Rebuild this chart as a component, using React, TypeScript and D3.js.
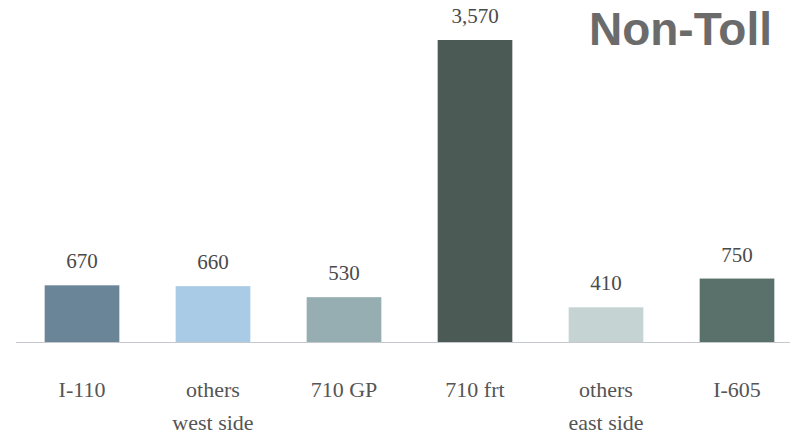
import * as d3 from 'd3';
import { useEffect, useRef } from 'react';

const categories = ['I-110', 'others\nwest side', '710 GP', '710 frt', 'others\neast side', 'I-605'];
const values = [670, 660, 530, 3570, 410, 750];
const valueLabels = ['670', '660', '530', '3,570', '410', '750'];
const barColors = ['#6a8498', '#a9cbe6', '#96aeb2', '#4b5a55', '#c5d3d3', '#5a706a'];

export default function App() {
  const ref = useRef<SVGSVGElement | null>(null);

  useEffect(() => {
    if (!ref.current) return;
    const svg = d3.select(ref.current);
    svg.selectAll('*').remove();

    const width = 796;
    const height = 438;
    const baseline = 342;

    svg.attr('width', width).attr('height', height).attr('viewBox', `0 0 ${width} ${height}`);

    const x = d3
      .scaleBand<string>()
      .domain(categories)
      .range([16.5, 802.5])
      .paddingInner(0.43)
      .paddingOuter(0.215);

    const y = d3.scaleLinear().domain([0, 3570]).range([baseline, 40]);

    // baseline
    svg
      .append('line')
      .attr('x1', 16)
      .attr('x2', 790)
      .attr('y1', baseline + 0.5)
      .attr('y2', baseline + 0.5)
      .attr('stroke', '#c4c8cc')
      .attr('stroke-width', 1.2);

    // bars
    svg
      .append('g')
      .selectAll('rect')
      .data(values)
      .enter()
      .append('rect')
      .attr('x', (_, i) => x(categories[i]) || 0)
      .attr('y', (d) => y(d))
      .attr('width', x.bandwidth())
      .attr('height', (d) => baseline - y(d))
      .attr('fill', (_, i) => barColors[i]);

    // value labels
    svg
      .append('g')
      .selectAll('text')
      .data(values)
      .enter()
      .append('text')
      .attr('x', (_, i) => (x(categories[i]) || 0) + x.bandwidth() / 2)
      .attr('y', (d) => y(d) - 17)
      .attr('text-anchor', 'middle')
      .style('font-family', '"Liberation Serif", "DejaVu Serif", serif')
      .style('font-size', '21px')
      .style('fill', '#4a4a4a')
      .text((_, i) => valueLabels[i]);

    // category labels
    const cat = svg
      .append('g')
      .selectAll('text')
      .data(categories)
      .enter()
      .append('text')
      .attr('text-anchor', 'middle')
      .style('font-family', '"Liberation Serif", "DejaVu Serif", serif')
      .style('font-size', '22px')
      .style('fill', '#555');
    cat.each(function (d) {
      const t = d3.select(this);
      const cx = (x(d) || 0) + x.bandwidth() / 2;
      d.split('\n').forEach((line, j) => {
        t.append('tspan').attr('x', cx).attr('y', 397 + j * 33).text(line);
      });
    });

    // title
    svg
      .append('text')
      .attr('x', 772)
      .attr('y', 45)
      .attr('text-anchor', 'end')
      .style('font-family', '"Liberation Sans", Arial, sans-serif')
      .style('font-weight', 'bold')
      .style('font-size', '46px')
      .style('fill', '#6b6b6b')
      .text('Non-Toll');
  }, []);

  return (
    <div style={{ position: 'fixed', left: 0, top: 0, width: 796, height: 438, overflow: 'hidden', background: '#fff' }}>
      <svg ref={ref} style={{ display: 'block' }} />
    </div>
  );
}
